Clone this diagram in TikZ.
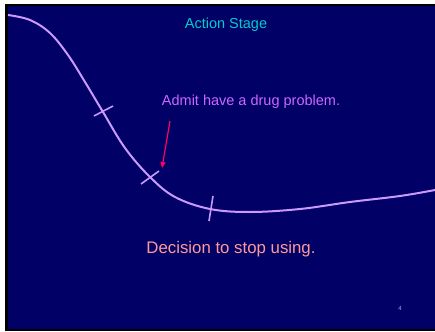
\documentclass[tikz,border=0pt]{standalone}
\usepackage{fontspec}
\setmainfont{Liberation Sans}
\usetikzlibrary{arrows.meta}
\definecolor{navy}{RGB}{0,0,102}
\definecolor{curvec}{RGB}{204,153,255}
\definecolor{cyanc}{RGB}{0,204,204}
\definecolor{violetc}{RGB}{204,102,255}
\definecolor{salmonc}{RGB}{255,153,153}
\definecolor{arrowc}{RGB}{255,0,102}
\definecolor{numc}{RGB}{153,170,221}
\tikzset{
  curveline/.style={curvec, line width=2pt},
  tickline/.style={curvec, line width=1.6pt},
  label/.style={inner sep=0pt, anchor=center},
}
\begin{document}
\begin{tikzpicture}[x=1pt,y=-1pt]
\useasboundingbox (0,0) rectangle (435,331);
\fill[white] (0,0) rectangle (435,331);
\fill[black] (5,4) rectangle (435,331);
\fill[navy] (8,6) rectangle (435,329);
% curve
\draw[curveline] plot[smooth, tension=0.6] coordinates {(8,15) (30,20) (50,33) (68,55) (85,82) (103,112) (125,148) (150,177) (175,197) (210,209) (250,212) (300,209) (350,202) (400,196) (435,190)};
% ticks
\coordinate (t1a) at (94,116); \coordinate (t1b) at (113,106);
\coordinate (t2a) at (141,184); \coordinate (t2b) at (159,171);
\coordinate (t3a) at (213,196); \coordinate (t3b) at (209,221);
\draw[tickline] (t1a) -- (t1b);
\draw[tickline] (t2a) -- (t2b);
\draw[tickline] (t3a) -- (t3b);
% texts
\node[label, text=cyanc, font=\fontsize{14.5}{17}\selectfont] (title) at (226,25) {Action Stage};
\node[label, text=violetc, font=\fontsize{14.5}{17}\selectfont] (admit) at (251,102) {Admit have a drug problem.};
\node[label, text=salmonc, font=\fontsize{16.8}{20}\selectfont] (decision) at (231,249) {Decision to stop using.};
\node[label, text=numc, font=\fontsize{6}{7}\selectfont] (num) at (400,308) {4};
% arrow
\coordinate (as) at (170,121);
\coordinate (ae) at (162,168);
\draw[arrowc, line width=1.2pt, -{Triangle[length=6pt,width=5pt]}] (as) -- (ae);
\end{tikzpicture}
\end{document}
